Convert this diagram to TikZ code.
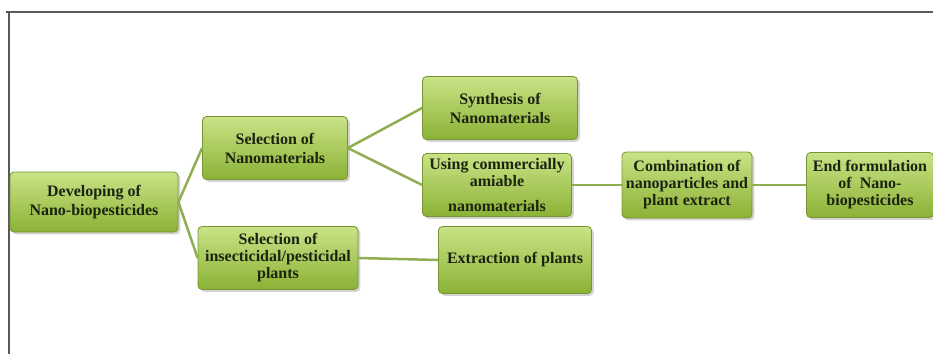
\documentclass[tikz,border=0pt]{standalone}
\usepackage{fontspec}
\setmainfont{Liberation Serif}
\usetikzlibrary{shadows}
\definecolor{boxtop}{HTML}{C8E386}
\definecolor{boxbottom}{HTML}{8BB236}
\definecolor{boxrim}{HTML}{769530}
\definecolor{linkgreen}{HTML}{8EAF4F}
\definecolor{inkgreen}{HTML}{1C2410}
\tikzset{stage/.style={draw=boxrim,thick,rounded corners=4pt,top color=boxtop,bottom color=boxbottom,
  drop shadow={opacity=0.35},align=center,inner sep=1pt,text=inkgreen,
  font=\fontsize{16}{19}\selectfont\bfseries,minimum width=#1,minimum height=63pt},stage/.default=150pt}
\tikzset{link/.style={draw=linkgreen,line width=2.5pt}}

\begin{document}
\begin{tikzpicture}[x=1pt,y=-1pt]

	% Page and frame
	\useasboundingbox (0,0) rectangle (933,354);
	\draw [gray!70!black,line width=1.2pt] (6,12) -- (933,12);
	\draw [gray!70!black,line width=1.2pt] (9,12) -- (9,354);

	% The stages
	\node [stage=168pt,minimum height=60pt] (dev) at (94,202) {Developing of\\Nano-biopesticides};
	\node [stage=145pt] (selnano) at (275,148) {Selection of\\Nanomaterials};
	\node [stage=155pt] (synth) at (500,108) {Synthesis of\\Nanomaterials};
	\node [stage=149pt] (using) at (497,185) {Using commercially\\[-2pt]amiable\\[6pt]nanomaterials};
	\node [stage=130pt,minimum height=66pt] (comb) at (687,185) {Combination of\\[-2pt]nanoparticles and\\[-2pt]plant extract};
	\node [stage=127pt,minimum height=65pt] (endf) at (870,185) {End formulation\\[-2pt]of~ Nano-\\[-2pt]biopesticides};
	\node [stage=160pt] (selplant) at (278,258) {Selection of\\[-2pt]insecticidal/pesticidal\\[-2pt]plants};
	\node [stage=153pt,minimum height=67pt] (extr) at (515,260) {Extraction of plants};

	% The links
	\draw [link] (dev.east) -- (selnano.west);
	\draw [link] (dev.east) -- (selplant.west);
	\draw [link] (selnano.east) -- (synth.west);
	\draw [link] (selnano.east) -- (using.west);
	\draw [link] (using.east) -- (comb.west);
	\draw [link] (comb.east) -- (endf.west);
	\draw [link] (selplant.east) -- (extr.west);

\end{tikzpicture}
\end{document}
